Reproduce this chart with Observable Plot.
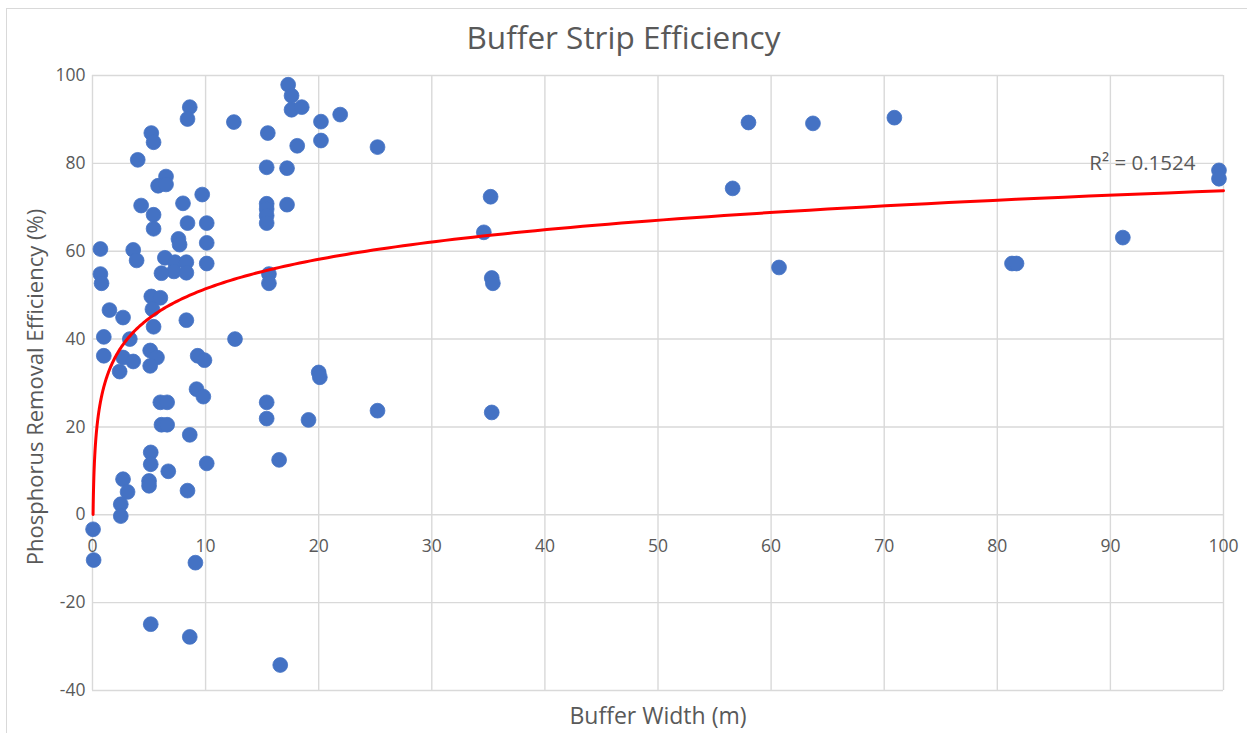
<!DOCTYPE html>
<html>
<head>
<meta charset="utf-8">
<script src="https://cdn.jsdelivr.net/npm/d3@7"></script>
<script src="https://cdn.jsdelivr.net/npm/@observablehq/plot@0.6"></script>
<style>
  html, body { margin: 0; padding: 0; background: #fff; }
  body { width: 1247px; height: 733px; overflow: hidden; position: relative; font-family: "Open Sans", Lato, sans-serif; }
  #frame { position: absolute; left: 6px; top: 8px; right: -2px; bottom: -2px; border-top: 1.5px solid #d9d9d9; border-left: 1.5px solid #d9d9d9; }
  #title { position: absolute; left: 0; top: 17px; width: 1247px; text-align: center; font-size: 31.5px; line-height: 40px; color: #595959; }
  #chart { position: absolute; left: 0; top: 60px; }
</style>
</head>
<body>
<div id="frame"></div>
<div id="title">Buffer Strip Efficiency</div>
<div id="chart"></div>
<script>
// Buffer width (m)
const bufferWidth = [
  17.3, 17.6, 17.6, 18.5, 20.2, 20.2, 8.6, 8.4, 12.5, 5.2,
  5.4, 15.5, 18.1, 4.0, 15.4, 17.2, 6.5, 5.8, 6.5, 9.7,
  4.3, 8.0, 15.4, 15.4, 15.4, 15.4, 17.2, 5.4, 5.4, 8.4,
  10.1, 7.6, 7.7, 10.1, 0.7, 3.6, 3.9, 6.4, 7.3, 8.3,
  7.2, 8.3, 10.1, 6.1, 0.7, 0.8, 15.6, 15.6, 5.2, 6.0,
  5.3, 1.5, 2.7, 8.3, 5.4, 1.0, 3.3, 12.6, 1.0, 5.1,
  5.7, 5.1, 2.7, 3.6, 2.4, 9.3, 9.9, 20.0, 20.1, 9.2,
  9.8, 6.0, 6.6, 15.4, 6.1, 6.6, 15.4, 19.1, 8.6, 5.15,
  5.15, 10.1, 16.5, 6.7, 2.7, 5.0, 5.0, 3.1, 8.4, 2.5,
  2.5, 0.05, 0.1, 9.1, 5.15, 8.6, 16.6, 21.9, 25.2, 35.2,
  34.6, 35.3, 35.4, 25.2, 35.3, 56.6, 58.0, 60.7, 63.7, 70.9,
  81.3, 81.7, 91.1, 99.6, 99.6
];
// Phosphorus removal efficiency (%)
const removalEfficiency = [
  97.9, 95.4, 92.2, 92.8, 89.5, 85.2, 92.8, 90.1, 89.4, 86.9,
  84.8, 86.9, 84.0, 80.8, 79.1, 78.9, 77.0, 74.9, 75.2, 72.9,
  70.4, 70.9, 70.8, 69.6, 68.1, 66.4, 70.6, 68.3, 65.1, 66.4,
  66.4, 62.8, 61.5, 61.9, 60.5, 60.3, 57.9, 58.5, 57.5, 57.5,
  55.4, 55.1, 57.2, 55.0, 54.8, 52.7, 54.8, 52.7, 49.7, 49.4,
  46.8, 46.6, 44.9, 44.3, 42.8, 40.5, 40.0, 40.0, 36.2, 37.4,
  35.8, 33.9, 35.8, 34.9, 32.6, 36.2, 35.2, 32.4, 31.3, 28.6,
  26.9, 25.6, 25.6, 25.6, 20.5, 20.5, 21.9, 21.6, 18.2, 14.2,
  11.5, 11.7, 12.5, 9.9, 8.1, 7.7, 6.6, 5.2, 5.5, 2.4,
  -0.3, -3.3, -10.3, -10.9, -24.9, -27.8, -34.2, 91.1, 83.7, 72.4,
  64.3, 53.9, 52.7, 23.7, 23.3, 74.3, 89.3, 56.3, 89.1, 90.4,
  57.2, 57.2, 63.1, 78.4, 76.5
];
// Logarithmic trendline y = a·ln(x) + b
const trendSlope = 9.7;
const trendIntercept = 29.1;
const trendStartX = 0.05;
const trendEndX = 100;
const r2Label = "R² = 0.1524";

const xTicks = [0, 10, 20, 30, 40, 50, 60, 70, 80, 90, 100];
const yTicks = [-40, -20, 0, 20, 40, 60, 80, 100];

const points = bufferWidth.map((x, i) => ({x, y: removalEfficiency[i]}));
const trend = d3.range(0, 301).map(i => {
  const x = Math.exp(Math.log(trendStartX) + (Math.log(trendEndX) - Math.log(trendStartX)) * i / 300);
  return {x, y: trendSlope * Math.log(x) + trendIntercept};
});

const textColor = "#595959";
const gridColor = "#d9d9d9";

const chart = Plot.plot({
  width: 1247,
  height: 673,
  marginLeft: 92,
  marginRight: 24,
  marginTop: 15,
  marginBottom: 43,
  style: {fontFamily: "'Open Sans', Lato, sans-serif", background: "transparent", overflow: "visible"},
  x: {domain: [0, 100], axis: null},
  y: {domain: [-40, 100], axis: null},
  marks: [
    Plot.gridX(xTicks, {stroke: gridColor, strokeOpacity: 1, strokeWidth: 1.4}),
    Plot.gridY(yTicks, {stroke: gridColor, strokeOpacity: 1, strokeWidth: 1.4}),
    Plot.axisY(yTicks, {tickSize: 0, tickPadding: 7, tickFormat: d => String(d), fontSize: 17.5, fill: textColor, label: null}),
    Plot.text(xTicks, {x: d => d, y: 0, dy: 32, text: d => String(d), fontSize: 17.5, fill: textColor}),
    Plot.dot(points, {x: "x", y: "y", r: 7.4, fill: "#4472c4", stroke: "#4472c4", strokeWidth: 0.8}),
    Plot.line(trend, {x: "x", y: "y", stroke: "#ff0000", strokeWidth: 3}),
    Plot.text([r2Label], {frameAnchor: "top-right", dx: -28, dy: 80, fontSize: 20.5, fill: textColor, textAnchor: "end"}),
    Plot.text(["Buffer Width (m)"], {frameAnchor: "bottom", dy: 33, fontSize: 23, fill: textColor}),
    Plot.text(["Phosphorus Removal Efficiency (%)"], {frameAnchor: "left", rotate: -90, dx: -57, dy: 4, textAnchor: "middle", fontSize: 22, fill: textColor})
  ]
});
document.getElementById("chart").appendChild(chart);
</script>
</body>
</html>
